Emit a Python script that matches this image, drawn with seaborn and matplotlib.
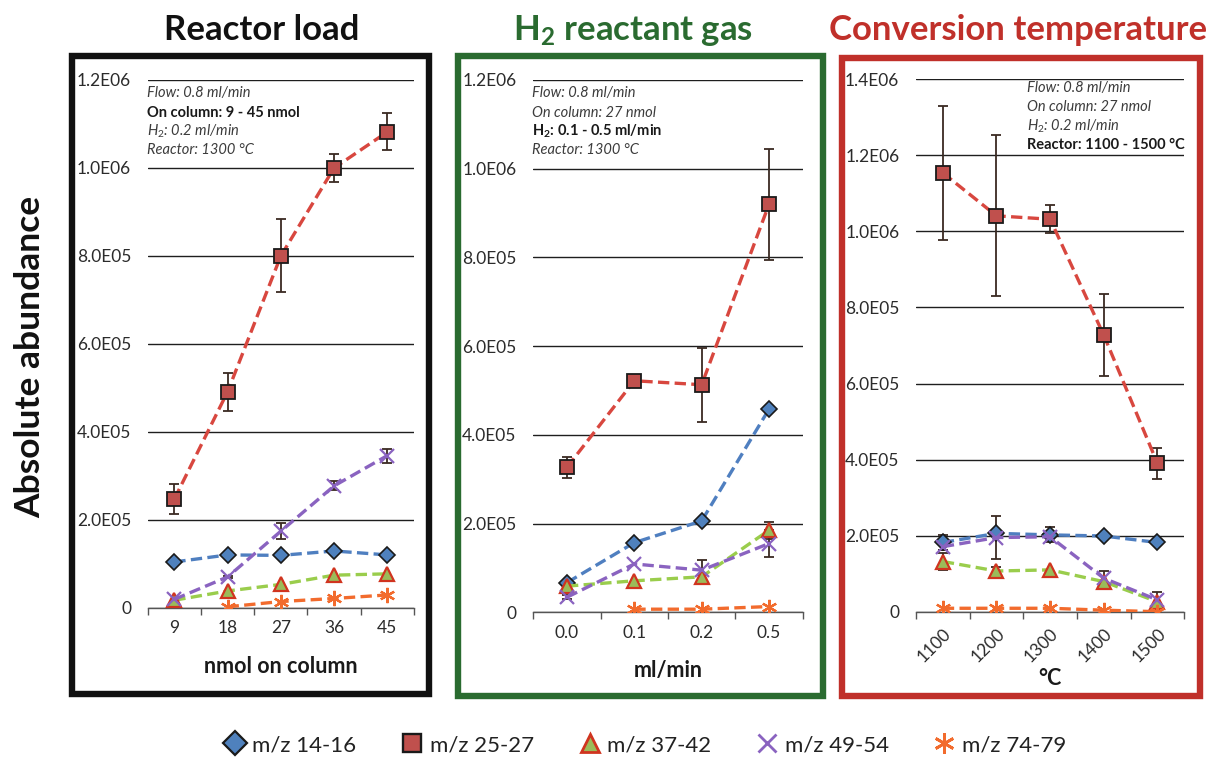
import numpy as np
import pandas as pd
import matplotlib
matplotlib.use("Agg")
import matplotlib.pyplot as plt
import seaborn as sns
from matplotlib.lines import Line2D
from matplotlib.patches import Rectangle
from matplotlib.ticker import FuncFormatter, FixedLocator

# ---------------- data ----------------
series_names = ["m/z 14-16", "m/z 25-27", "m/z 37-42", "m/z 49-54", "m/z 74-79"]

# Reactor load (nmol on column)
load_labels = ["9", "18", "27", "36", "45"]
load_mz14 = [1.04e5, 1.20e5, 1.19e5, 1.29e5, 1.20e5]
load_mz25 = [2.47e5, 4.91e5, 8.00e5, 1.000e6, 1.082e6]
load_mz37 = [0.17e5, 0.38e5, 0.53e5, 0.74e5, 0.77e5]
load_mz49 = [0.19e5, 0.70e5, 1.74e5, 2.77e5, 3.46e5]
load_mz74 = [np.nan, 0.02e5, 0.14e5, 0.21e5, 0.29e5]
load_err14 = [0, 0, 0, 0, 0]
load_err25 = [0.34e5, 0.43e5, 0.83e5, 0.32e5, 0.42e5]
load_err37 = [0, 0, 0, 0, 0]
load_err49 = [0, 0.03e5, 0.18e5, 0.10e5, 0.16e5]
load_err74 = [0, 0, 0, 0, 0]

# H2 reactant gas (ml/min)
h2_labels = ["0.0", "0.1", "0.2", "0.5"]
h2_mz14 = [0.67e5, 1.57e5, 2.06e5, 4.58e5]
h2_mz25 = [3.27e5, 5.22e5, 5.13e5, 9.20e5]
h2_mz37 = [0.59e5, 0.71e5, 0.80e5, 1.85e5]
h2_mz49 = [0.34e5, 1.09e5, 0.95e5, 1.55e5]
h2_mz74 = [np.nan, 0.07e5, 0.07e5, 0.13e5]
h2_err14 = [0, 0, 0, 0]
h2_err25 = [0.24e5, 0.08e5, 0.83e5, 1.25e5]
h2_err37 = [0, 0, 0.05e5, 0.19e5]
h2_err49 = [0.05e5, 0, 0.22e5, 0.31e5]
h2_err74 = [0, 0, 0, 0]

# Conversion temperature (°C)
temp_labels = ["1100", "1200", "1300", "1400", "1500"]
temp_mz14 = [1.82e5, 2.06e5, 2.02e5, 1.99e5, 1.82e5]
temp_mz25 = [1.154e6, 1.041e6, 1.032e6, 7.27e5, 3.90e5]
temp_mz37 = [1.32e5, 1.07e5, 1.10e5, 0.79e5, 0.26e5]
temp_mz49 = [1.71e5, 1.95e5, 1.97e5, 0.88e5, 0.31e5]
temp_mz74 = [0.09e5, 0.09e5, 0.09e5, 0.04e5, 0.0]
temp_err14 = [0.20e5, 0, 0.20e5, 0, 0]
temp_err25 = [1.77e5, 2.12e5, 0.37e5, 1.08e5, 0.40e5]
temp_err37 = [0.23e5, 0.10e5, 0, 0, 0]
temp_err49 = [0.10e5, 0.57e5, 0.10e5, 0.20e5, 0.20e5]
temp_err74 = [0, 0, 0, 0, 0]

# ---------------- styling ----------------
sns.set_theme(style="white")
plt.rcParams["font.family"] = ["Lato", "DejaVu Sans"]
plt.rcParams["mathtext.fontset"] = "custom"
plt.rcParams["mathtext.rm"] = "Lato"
plt.rcParams["mathtext.it"] = "Lato:italic"
plt.rcParams["mathtext.bf"] = "Lato:bold"

W, H = 1213, 760
fig = plt.figure(figsize=(W / 100, H / 100), dpi=100)


def fx(x):
    return x / W


def fy(y):
    return 1 - y / H


styles = {
    "m/z 14-16": dict(marker="D", ms=8.5, mfc="#4f81bd", mec="#1a1a1a", mew=1.2, line="#4f7fc0"),
    "m/z 25-27": dict(marker="s", ms=9.5, mfc="#c0504d", mec="#1a1a1a", mew=1.3, line="#d8473f"),
    "m/z 37-42": dict(marker="^", ms=10, mfc="#9bbb59", mec="#d0341f", mew=1.6, line="#9acd4c"),
    "m/z 49-54": dict(marker="x", ms=10, mfc="#8064a2", mec="#8a63c0", mew=1.6, line="#8a63c0"),
    "m/z 74-79": dict(marker=(6, 2, 0), ms=11, mfc="#f26b2d", mec="#f26b2d", mew=1.6, line="#f26b2d"),
}

err_color = "#3a2a22"


def sci_fmt(v, _pos):
    if abs(v) < 1:
        return "0"
    exp = int(np.floor(np.log10(abs(v))))
    mant = v / 10 ** exp
    return f"{mant:.1f}E{exp:02d}"


def draw_panel(rect, labels, values, errors, ymax, ystep, rotate=False, xlabel=""):
    ax = fig.add_axes(rect)
    n = len(labels)
    pos = np.arange(n)
    for name, vals, errs in zip(series_names, values, errors):
        st = styles[name]
        df = pd.DataFrame({"pos": pos, "value": vals}).dropna()
        errs = np.asarray(errs, dtype=float)
        vals_a = np.asarray(vals, dtype=float)
        mask = (errs > 0) & ~np.isnan(vals_a)
        if mask.any():
            ax.errorbar(pos[mask], vals_a[mask], yerr=errs[mask], fmt="none",
                        ecolor=err_color, elinewidth=1.3, capsize=3.5,
                        capthick=1.3, zorder=2.5)
        sns.lineplot(data=df, x="pos", y="value", ax=ax, color=st["line"],
                     linestyle=(0, (3.4, 1.6)), linewidth=2.4, marker=st["marker"],
                     markersize=st["ms"], markerfacecolor=st["mfc"],
                     markeredgecolor=st["mec"], markeredgewidth=st["mew"],
                     errorbar=None, legend=False, zorder=3)
    ax.set_xlim(-0.5, n - 0.5)
    ax.set_ylim(0, ymax)
    ax.yaxis.set_major_locator(FixedLocator(np.arange(0, ymax + 1, ystep)))
    ax.yaxis.set_major_formatter(FuncFormatter(sci_fmt))
    ax.set_xticks(pos)
    ax.set_xticklabels(labels)
    if rotate:
        for t in ax.get_xticklabels():
            t.set_rotation(45)
            t.set_ha("right")
            t.set_va("top")
            t.set_rotation_mode("anchor")
    ax.xaxis.set_minor_locator(FixedLocator(np.arange(-0.5, n, 1.0)))
    ax.tick_params(axis="x", which="major", length=0, pad=9 if not rotate else 10,
                   labelsize=12.5, labelcolor="#2b2b2b")
    ax.tick_params(axis="x", which="minor", length=5, width=1, color="#555555",
                   direction="out", bottom=True)
    ax.tick_params(axis="y", length=0, pad=12, labelsize=12.5, labelcolor="#2b2b2b")
    ax.yaxis.grid(True, color="#1e1e1e", linewidth=1.0)
    ax.xaxis.grid(False)
    ax.set_axisbelow(True)
    for s in ["left", "right", "top"]:
        ax.spines[s].set_visible(False)
    ax.spines["bottom"].set_color("#555555")
    ax.spines["bottom"].set_linewidth(1.0)
    ax.set_xlabel(xlabel, fontsize=15.5, fontweight="bold", color="#1a1a1a",
                  labelpad=14 if not rotate else 2)
    ax.set_ylabel("")
    return ax


ax1 = draw_panel([fx(147.7), fy(607.7), fx(414 - 147.7), fy(80) - fy(607.7)],
                 load_labels,
                 [load_mz14, load_mz25, load_mz37, load_mz49, load_mz74],
                 [load_err14, load_err25, load_err37, load_err49, load_err74],
                 1.2e6, 2e5, xlabel="nmol on column")
ax2 = draw_panel([fx(533.3), fy(612.3), fx(802.7 - 533.3), fy(80) - fy(612.3)],
                 h2_labels,
                 [h2_mz14, h2_mz25, h2_mz37, h2_mz49, h2_mz74],
                 [h2_err14, h2_err25, h2_err37, h2_err49, h2_err74],
                 1.2e6, 2e5, xlabel="ml/min")
ax3 = draw_panel([fx(916), fy(611.7), fx(1184.3 - 916), fy(79.3) - fy(611.7)],
                 temp_labels,
                 [temp_mz14, temp_mz25, temp_mz37, temp_mz49, temp_mz74],
                 [temp_err14, temp_err25, temp_err37, temp_err49, temp_err74],
                 1.4e6, 2e5, rotate=True, xlabel="°C")

# ---------------- frames and titles ----------------
frames = [
    (71.5, 56, 428.5, 693.5, "#111111"),
    (457.5, 56, 823, 696, "#2a6b30"),
    (841.5, 58, 1200, 696, "#c0302a"),
]
for x0, y0, x1, y1, c in frames:
    fig.add_artist(Rectangle((fx(x0), fy(y1)), fx(x1 - x0), fy(y0) - fy(y1),
                             transform=fig.transFigure, fill=False,
                             edgecolor=c, linewidth=4.6, clip_on=False, zorder=5))

fig.text(fx(262), fy(30), "Reactor load", ha="center", va="center",
         fontsize=25, fontweight="bold", color="#111111")
fig.text(fx(633), fy(30), r"H$_\mathbf{2}$ reactant gas", ha="center", va="center",
         fontsize=25, fontweight="bold", color="#2a6b30")
fig.text(fx(1018), fy(30), "Conversion temperature", ha="center", va="center",
         fontsize=25, fontweight="bold", color="#c0302a")
fig.text(fx(30), fy(357), "Absolute abundance", ha="center", va="center",
         rotation=90, fontsize=25.5, fontweight="bold", color="#111111")

# ---------------- condition notes ----------------
note_color = "#3c3c3c"


def notes(x, ys, lines, bold_idx):
    for i, (y, txt) in enumerate(zip(ys, lines)):
        if i == bold_idx:
            fig.text(fx(x), fy(y), txt, ha="left", va="center", fontsize=10.5,
                     fontweight="bold", color="#1a1a1a")
        else:
            fig.text(fx(x), fy(y), txt, ha="left", va="center", fontsize=10.5,
                     style="italic", color=note_color)


notes(146.7, [93.3, 112.7, 131.7, 150],
      ["Flow: 0.8 ml/min", "On column: 9 - 45 nmol", r"H$_2$: 0.2 ml/min", "Reactor: 1300 °C"], 1)
notes(532, [93.3, 112.7, 131.7, 150],
      ["Flow: 0.8 ml/min", "On column: 27 nmol", r"H$_\mathbf{2}$: 0.1 - 0.5 ml/min", "Reactor: 1300 °C"], 2)
notes(1026.7, [88.3, 107, 126, 145],
      ["Flow: 0.8 ml/min", "On column: 27 nmol", r"H$_2$: 0.2 ml/min", "Reactor: 1100 - 1500 °C"], 3)

# ---------------- legend ----------------
handles = []
for name in series_names:
    st = styles[name]
    handles.append(Line2D([], [], linestyle="none", marker=st["marker"],
                          markersize=st["ms"] + 3.5, markerfacecolor=st["mfc"],
                          markeredgecolor=st["mec"], markeredgewidth=st["mew"] + 0.4))
fig.legend(handles, series_names, loc="center", bbox_to_anchor=(fx(645), fy(745)),
           ncol=5, frameon=False, fontsize=16, handlelength=1.0, handletextpad=0.3,
           columnspacing=2.0, labelcolor="#222222")

fig.savefig("out.png", dpi=100)
